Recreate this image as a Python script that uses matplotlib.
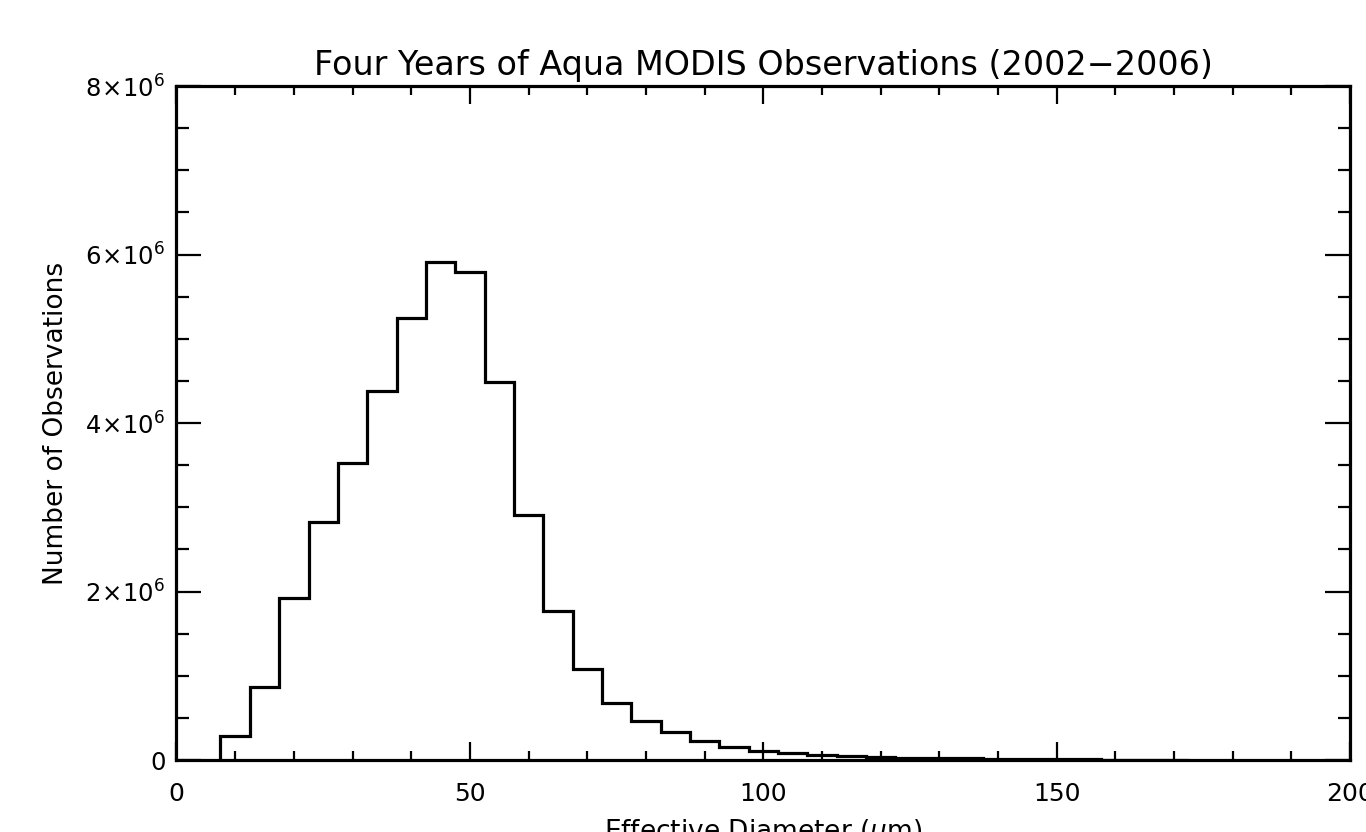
import numpy as np
import matplotlib
matplotlib.use("Agg")
import matplotlib.pyplot as plt
from matplotlib.ticker import MultipleLocator, FuncFormatter

# bin centres (um) and counts (millions)
diameter = [10, 15, 20, 25, 30, 35, 40, 45, 50, 55, 60, 65, 70, 75, 80, 85, 90,
            95, 100, 105, 110, 115, 120, 125, 130, 135, 140, 145, 150, 155,
            160, 165, 170]
counts_m = [0.29, 0.865, 1.92, 2.82, 3.53, 4.38, 5.25, 5.91, 5.79, 4.49, 2.91,
            1.77, 1.08, 0.68, 0.46, 0.33, 0.23, 0.16, 0.11, 0.08, 0.06, 0.05,
            0.04, 0.03, 0.025, 0.02, 0.015, 0.012, 0.01, 0.008, 0.006, 0.005,
            0.004]
bin_width = 5

centres = np.array(diameter, dtype=float)
edges = np.append(centres - bin_width / 2, centres[-1] + bin_width / 2)
counts = np.array(counts_m) * 1e6

plt.rcParams['font.family'] = 'DejaVu Sans'
plt.rcParams['mathtext.fontset'] = 'dejavusans'

fig = plt.figure(figsize=(13.66, 8.32), dpi=100)
ax = fig.add_axes([0.1292, 0.0865, 0.8591, 0.8101])

ax.stairs(counts, edges, color='black', linewidth=2.3)

ax.set_xlim(0, 200)
ax.set_ylim(0, 8e6)
ax.xaxis.set_major_locator(MultipleLocator(50))
ax.xaxis.set_minor_locator(MultipleLocator(10))
ax.yaxis.set_major_locator(MultipleLocator(2e6))
ax.yaxis.set_minor_locator(MultipleLocator(0.5e6))


def fmt_y(v, pos):
    if v == 0:
        return '0'
    return r'$%d\!\times\!10^{6}$' % round(v / 1e6)


ax.yaxis.set_major_formatter(FuncFormatter(fmt_y))

for s in ax.spines.values():
    s.set_linewidth(2.3)

ax.tick_params(axis='x', which='major', direction='in', length=13, width=1.6,
               top=True, labelsize=18, pad=16)
ax.tick_params(axis='x', which='minor', direction='in', length=6.5, width=1.6,
               top=True)
ax.tick_params(axis='y', which='major', direction='in', length=18, width=1.6,
               right=True, labelsize=17.5, pad=8)
ax.tick_params(axis='y', which='minor', direction='in', length=9, width=1.6,
               right=True)

ax.set_title('Four Years of Aqua MODIS Observations (2002\u22122006)',
             fontsize=24, pad=8)
ax.set_xlabel(r'Effective Diameter ($\mu$m)', fontsize=19, labelpad=8)
ax.set_ylabel('Number of Observations', fontsize=19, labelpad=12)

fig.savefig('out.png', dpi=100)
